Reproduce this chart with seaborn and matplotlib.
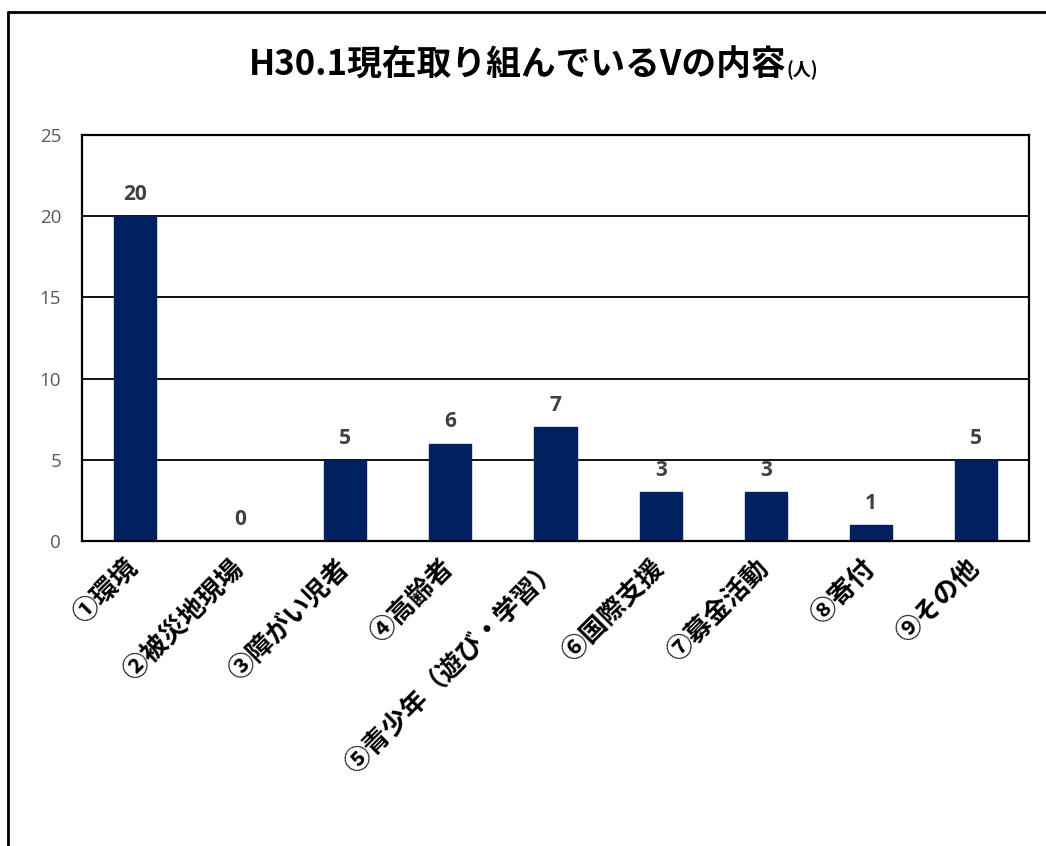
import matplotlib
matplotlib.use("Agg")
import matplotlib.pyplot as plt
import seaborn as sns
import pandas as pd
from matplotlib.lines import Line2D

categories = ["①環境", "②被災地現場", "③障がい児者", "④高齢者", "⑤青少年（遊び・学習）",
              "⑥国際支援", "⑦募金活動", "⑧寄付", "⑨その他"]
values = [20, 0, 5, 6, 7, 3, 3, 1, 5]
yticks = [0, 5, 10, 15, 20, 25]
title_main = "H30.1現在取り組んでいるVの内容"
title_unit = "(人)"

sns.set_theme(style="white")
plt.rcParams['font.family'] = ['Noto Sans CJK JP', 'DejaVu Sans']

W, H = 1046, 846
fig = plt.figure(figsize=(W / 100, H / 100), dpi=100)
ax = fig.add_axes([82 / W, 1 - 541 / H, (1029 - 82) / W, (541 - 135) / H])

df = pd.DataFrame({"cat": categories, "val": values})
sns.barplot(data=df, x="cat", y="val", color="#002060", width=0.4, ax=ax, saturation=1)
for p in ax.patches:
    p.set_edgecolor("#002060")

ax.set_ylim(0, 25)
ax.set_yticks(yticks)
ax.set_yticklabels([str(t) for t in yticks], color="#595959", fontsize=13.5,
                   family=['Open Sans', 'DejaVu Sans'])
ax.tick_params(axis='y', length=0, pad=15)
ax.tick_params(axis='x', length=0, pad=17)
ax.set_xlabel("")
ax.set_ylabel("")
ax.grid(axis='y', color='black', linewidth=1.3)
ax.set_axisbelow(True)
for s in ax.spines.values():
    s.set_visible(True)
    s.set_color('black')
    s.set_linewidth(1.6)

ax.set_xticks(range(len(categories)))
ax.set_xticklabels(categories, rotation=45, ha='right', va='center',
                   rotation_mode='anchor', fontsize=19, fontweight='bold', color='black')

ax.bar_label(ax.containers[0], labels=[str(v) for v in values], padding=8,
             fontsize=15, fontweight='bold', color='#404040',
             family=['Open Sans', 'DejaVu Sans'])

# Title in two parts
t1 = fig.text(0.5, 1 - 76 / H, title_main, ha='center', va='baseline',
              fontsize=25, fontweight='bold', color='black')
t2 = fig.text(0, 1 - 76 / H, title_unit, ha='left', va='baseline',
              fontsize=13, fontweight='bold', color='black')
fig.canvas.draw()
w1 = t1.get_window_extent().width
w2 = t2.get_window_extent().width
start = 533 - (w1 + w2) / 2
t1.set_ha('left')
t1.set_x(start / W)
t2.set_x((start + w1) / W)

# Outer chart border (left and top)
fig.add_artist(Line2D([8 / W, 8 / W], [0, 1 - 12 / H], color='black', linewidth=2,
                      transform=fig.transFigure))
fig.add_artist(Line2D([8 / W, 1], [1 - 12 / H, 1 - 12 / H], color='black', linewidth=2,
                      transform=fig.transFigure))

fig.savefig("out.png", dpi=100, facecolor='white')
